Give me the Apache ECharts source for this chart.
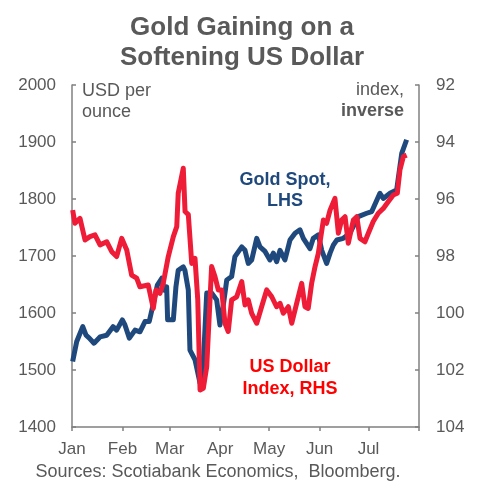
<!DOCTYPE html>
<html>
<head>
<meta charset="utf-8">
<script src="https://cdn.jsdelivr.net/npm/echarts@6/dist/echarts.min.js"></script>
<style>
  html, body { margin: 0; padding: 0; background: #fff; }
  #chart { width: 484px; height: 483px; }
</style>
</head>
<body>
<div id="chart"></div>
<script>
// x values are days since Jan 1 2020
var monthStarts = [0, 31, 60, 91, 121, 152, 182, 213];
var monthNames = ['Jan', 'Feb', 'Mar', 'Apr', 'May', 'Jun', 'Jul', ''];

var goldDays = [0.4, 2.9, 6.6, 8.6, 10.6, 13.5, 17.2, 21.3, 25.2, 27.4, 30.9, 32.5, 35.2, 38.7, 41.7, 44.8, 47.4, 49.5,
  52.4, 55.1, 56.7, 58.1, 58.7, 62.2, 63.8, 65.2, 68.3, 69.3, 71.4, 72.4, 75.5, 78.6, 80.6, 82.7, 85.7, 88.8, 90.8,
  92.9, 95, 98, 100, 104.2, 106.2, 108.2, 110.3, 113.4, 115.4, 118.5, 121.5, 123.6, 125.6, 127.7, 130.7, 133.8,
  136.9, 139.9, 142, 143, 146.1, 148.1, 151.2, 153.3, 156.3, 158.4, 160.4, 162.5, 166.5, 170.6, 175.7, 180.9,
  184, 189, 191.1, 195.2, 199.3, 202.4, 205.4];
var goldSpot = [1515, 1550, 1576, 1561, 1556, 1547, 1558, 1561, 1576, 1570, 1588, 1579, 1556, 1570, 1567, 1585, 1585, 1611,
  1649, 1661, 1640, 1646, 1588, 1588, 1646, 1675, 1681, 1675, 1640, 1535, 1518, 1477, 1512, 1635, 1635, 1623, 1579,
  1614, 1658, 1664, 1699, 1716, 1710, 1687, 1693, 1731, 1716, 1708, 1693, 1705, 1690, 1710, 1693, 1728,
  1740, 1746, 1731, 1731, 1713, 1731, 1737, 1710, 1687, 1705, 1719, 1728, 1731, 1740, 1769, 1775,
  1778, 1810, 1801, 1810, 1816, 1880, 1904];

var usdDays = [0.4, 1.8, 4.9, 8, 11, 14.1, 17.2, 21.3, 24.4, 27.4, 30.5, 33.6, 36.6, 39.7, 41.7, 46.8, 49.9, 51.6, 54, 56,
  59.1, 62.2, 64.3, 65.2, 68.3, 69.4, 71.4, 73.5, 75.5, 77.2, 78.6, 80.6, 82.7, 85.7, 87.8, 89.8, 91.9, 93.9, 95.9,
  98, 101.1, 104.2, 106.2, 108.2, 110.3, 113.4, 116.4, 119.5, 122.6, 125.6, 127.7, 129.7, 132.8, 134.9, 137.9,
  141, 143, 145, 147.1, 149.2, 151.2, 154.3, 156.3, 158.4, 161.4, 163.5, 165.5, 167.6, 169.6, 172.7, 174.8,
  176.8, 179.8, 181.9, 184.9, 188, 191.1, 194.2, 197.2, 199.7, 201.3, 203.4, 205.4];
var usdIndex = [96.39, 96.85, 96.68, 97.44, 97.32, 97.26, 97.61, 97.50, 97.85, 98.02, 97.38, 97.79, 98.67, 98.78, 99.08, 99.02, 99.84, 99.19, 99.31, 98.96,
  98.02, 97.32, 96.97, 95.80, 94.92, 96.44, 96.55, 98.26, 98.08, 99.54, 102.70, 102.64, 101.88, 98.37, 98.73, 99.19, 99.19, 100.36, 100.65,
  99.54, 99.43, 98.90, 99.72, 99.54, 100.01, 100.36, 99.78, 99.19, 99.43, 99.78, 99.66, 100.01, 99.78, 100.36, 99.66,
  98.96, 99.78, 99.84, 98.96, 98.37, 97.91, 96.74, 96.85, 96.39, 95.98, 97.20, 96.74, 96.62, 97.55, 96.74, 96.62,
  97.38, 97.50, 97.20, 96.79, 96.50, 96.33, 96.09, 95.86, 95.80, 94.98, 94.51, 94.46];

function pairs(xs, ys) {
  var out = [];
  for (var i = 0; i < xs.length; i++) out.push([xs[i], ys[i]]);
  return out;
}

var grey = '#595959';
var axisGrey = '#808080';
var font = 'Liberation Sans, Arial, sans-serif';

var myChart = echarts.init(document.getElementById('chart'));
var option = {
  animation: false,
  backgroundColor: '#fff',
  textStyle: { fontFamily: font },
  title: {
    text: 'Gold Gaining on a\nSoftening US Dollar',
    left: 'center',
    top: 8,
    textStyle: { fontSize: 26, fontWeight: 'bold', color: grey, lineHeight: 30, fontFamily: font }
  },
  grid: { left: 72, right: 65, top: 85, bottom: 56 },
  xAxis: {
    type: 'value',
    min: 0,
    max: 213,
    splitLine: { show: false },
    axisLine: { lineStyle: { color: axisGrey, width: 1.5 } },
    axisTick: { customValues: monthStarts, length: 4, lineStyle: { color: axisGrey, width: 1.5 } },
    axisLabel: {
      customValues: monthStarts,
      color: grey, fontSize: 17, margin: 14,
      formatter: function (v) { return monthNames[monthStarts.indexOf(v)] || ''; }
    }
  },
  yAxis: [
    {
      type: 'value', min: 1400, max: 2000, interval: 100,
      splitLine: { show: false },
      axisLine: { show: true, lineStyle: { color: axisGrey, width: 1.5 } },
      axisTick: { show: true, inside: true, length: 4, lineStyle: { color: axisGrey, width: 1.5 } },
      axisLabel: { color: grey, fontSize: 17, margin: 16, formatter: function (v) { return String(v); } }
    },
    {
      type: 'value', min: 92, max: 104, interval: 2, inverse: true,
      splitLine: { show: false },
      axisLine: { show: true, lineStyle: { color: axisGrey, width: 1.5 } },
      axisTick: { show: true, inside: true, length: 4, lineStyle: { color: axisGrey, width: 1.5 } },
      axisLabel: { color: grey, fontSize: 17, margin: 17, formatter: function (v) { return String(v); } }
    }
  ],
  series: [
    {
      name: 'Gold Spot', type: 'line', yAxisIndex: 0, showSymbol: false,
      data: pairs(goldDays, goldSpot),
      lineStyle: { color: '#1F497D', width: 5, join: 'round' },
      itemStyle: { color: '#1F497D' }
    },
    {
      name: 'US Dollar Index', type: 'line', yAxisIndex: 1, showSymbol: false,
      data: pairs(usdDays, usdIndex),
      lineStyle: { color: '#EE1C36', width: 5, join: 'round' },
      itemStyle: { color: '#EE1C36' }
    }
  ],
  graphic: [
    { type: 'text', x: 82, y: 81, style: { text: 'USD per\nounce', fill: grey, font: '18px ' + font, lineHeight: 21 } },
    { type: 'text', x: 404, y: 81, style: { text: 'index,', fill: grey, font: '18px ' + font, align: 'right' } },
    { type: 'text', x: 404, y: 102, style: { text: 'inverse', fill: grey, font: 'bold 18px ' + font, align: 'right' } },
    { type: 'text', x: 285, y: 170, style: { text: 'Gold Spot,\nLHS', fill: '#1F497D', font: 'bold 18px ' + font, align: 'center', lineHeight: 21 } },
    { type: 'text', x: 290, y: 356, style: { text: 'US Dollar\nIndex, RHS', fill: '#FF0000', font: 'bold 18px ' + font, align: 'center', lineHeight: 22 } },
    { type: 'text', x: 218, y: 463, style: { text: 'Sources: Scotiabank Economics,  Bloomberg.', fill: grey, font: '18px ' + font, align: 'center' } }
  ]
};
myChart.setOption(option);
window.addEventListener('resize', function () { myChart.resize(); });
</script>
</body>
</html>
